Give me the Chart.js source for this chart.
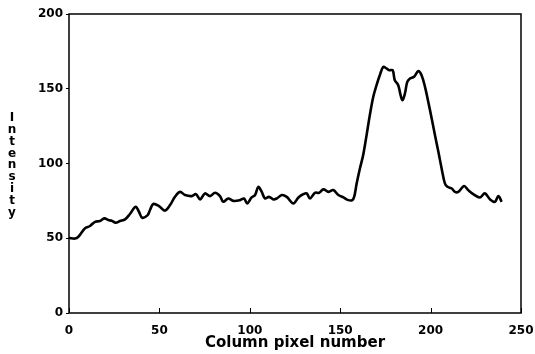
<!DOCTYPE html>
<html>
<head>
<meta charset="utf-8">
<script src="https://cdn.jsdelivr.net/npm/chart.js@4"></script>
<style>
html,body{margin:0;padding:0;background:#fff;}
#wrap{width:535px;height:354px;position:relative;}
</style>
</head>
<body>
<div id="wrap"><canvas id="c" width="535" height="354"></canvas></div>
<script>
const columns = [0,3.3,5.2,8.8,11.6,14.4,17.1,19.5,21.7,23.6,25.8,28.2,31,33.7,36.9,38.7,40.5,43.5,44.8,46.6,49.8,53,55.9,58.6,61.4,64.2,67.9,70.2,72.5,75.2,78,80.8,83.5,85.3,88.1,90.9,94.6,96.8,98.6,101,102.9,104.7,106.6,108.4,110.6,113,114.9,117.7,120.4,124.1,126.9,129.6,131.5,133.3,136,138.3,140.7,143.5,146.2,149,151.8,154.5,156.7,157.8,159.1,160.9,162.7,164.6,166.4,168.3,170.1,171.9,173.8,175.6,177.1,179,180.2,182.1,183.4,184.5,185.8,187.1,188.6,190.8,193.2,195,196.9,198.7,200.6,202.4,204.3,206.1,207.9,209.3,211.7,213.5,215.3,218.5,220.8,223.6,227.3,230,232.9,235.6,237.5,239.3];
const intensity = [50.3,49.8,51,56.6,58.2,61,61.5,63.3,62.2,61.7,60.4,61.5,62.6,66.2,71,67.7,63.7,65.5,68.9,72.9,71.5,68.5,72.2,77.7,81,78.9,78.2,79.5,76,80,78.2,80.4,78.2,74.4,76.6,75,75.5,76.6,73.3,77.3,78.9,84.4,81,76.6,77.7,76,76.6,78.9,77.7,73.3,77.3,79.5,80,76.6,80.4,80.4,82.7,81,82.2,78.9,77.3,75.5,75.5,78,86.6,96.7,105.6,119,132.4,144.6,152.4,159,164.6,163.6,162.4,162.4,155.7,152.4,145.7,142.4,146.8,154.6,156.9,158,161.8,159,151.3,141.3,130.1,119,107.8,96.7,86.7,84.4,83.3,81,81,84.9,82.2,79.5,77.3,80,76,74.4,78.2,74.4];
const xTicks = [0,50,100,150,200,250];
const yTicks = [0,50,100,150,200];
const xTitle = "Column pixel number";
const yTitle = "Intensity";

const points = columns.map((c,i)=>({x:c,y:intensity[i]}));

const framePlugin = {
  id:'frame',
  afterDraw(chart){
    const {ctx, chartArea:a, scales} = chart;
    ctx.save();
    ctx.strokeStyle = '#000';
    ctx.lineWidth = 1.5;
    ctx.strokeRect(a.left, a.top, a.right-a.left, a.bottom-a.top);
    ctx.lineWidth = 1;
    xTicks.forEach(v=>{
      const px = Math.round(scales.x.getPixelForValue(v))+0.5;
      ctx.beginPath(); ctx.moveTo(px, a.bottom); ctx.lineTo(px, a.bottom-5); ctx.stroke();
    });
    ctx.fillStyle = '#000';
    ctx.font = 'bold 12px "DejaVu Sans"';
    ctx.textAlign = 'center';
    ctx.textBaseline = 'middle';
    const letters = yTitle.split('');
    const y0 = 118, step = 11.8;
    letters.forEach((ch,i)=>ctx.fillText(ch, 12, y0 + i*step));
    ctx.restore();
  }
};

new Chart(document.getElementById('c'), {
  type:'scatter',
  data:{datasets:[{
    data:points,
    showLine:true,
    borderColor:'#000',
    borderWidth:2.6,
    pointRadius:0,
    tension:0.35,
    fill:false
  }]},
  options:{
    responsive:false,
    animation:false,
    layout:{padding:{top:14,right:14,left:0,bottom:0}},
    plugins:{legend:{display:false},tooltip:{enabled:false}},
    scales:{
      x:{
        type:'linear', min:0, max:250,
        afterBuildTicks(s){ s.ticks = xTicks.map(v=>({value:v})); },
        afterFit(s){ s.height = 41; s.paddingRight = 0; s.paddingLeft = 0; },
        grid:{display:true, drawOnChartArea:false, drawTicks:false},
        border:{display:false},
        ticks:{color:'#000', font:{family:'DejaVu Sans', weight:'bold', size:12}, padding:11, maxRotation:0, autoSkip:false},
        title:{display:true, text:xTitle, color:'#000', font:{family:'DejaVu Sans', weight:'bold', size:15}, padding:{top:0,bottom:2}}
      },
      y:{
        type:'linear', min:0, max:200,
        afterBuildTicks(s){ s.ticks = yTicks.map(v=>({value:v})); },
        afterFit(s){ s.width = 69; s.paddingTop = 0; s.paddingBottom = 0; },
        grid:{display:true, drawOnChartArea:false, tickLength:3, color:'#000'},
        border:{display:false},
        ticks:{color:'#000', font:{family:'DejaVu Sans', weight:'bold', size:12}, padding:3}
      }
    }
  },
  plugins:[framePlugin]
});
</script>
</body>
</html>
